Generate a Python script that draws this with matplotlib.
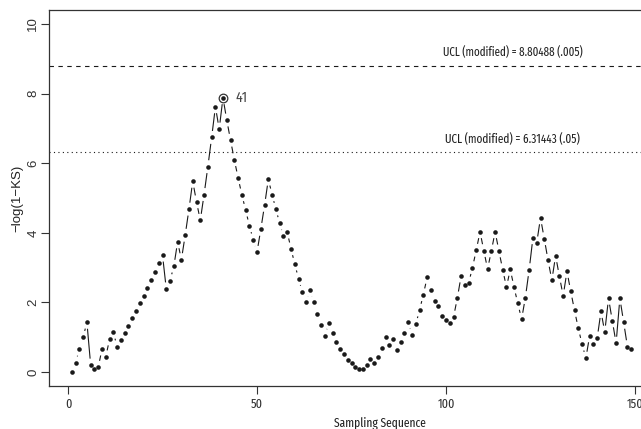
import numpy as np
import matplotlib
matplotlib.use('Agg')
import matplotlib.pyplot as plt
from matplotlib import font_manager
from matplotlib.font_manager import FontProperties
from matplotlib.collections import LineCollection

# -log(1-KS) value for each sample
ks = [0.00, 0.27, 0.65, 1.00, 1.43, 0.20, 0.09, 0.14, 0.66, 0.44,
      0.95, 1.14, 0.73, 0.92, 1.12, 1.32, 1.54, 1.75, 1.97, 2.19,
      2.41, 2.65, 2.88, 3.12, 3.36, 2.39, 2.63, 3.04, 3.74, 3.23,
      3.93, 4.68, 5.48, 4.89, 4.36, 5.10, 5.90, 6.74, 7.62, 6.98,
      7.88, 7.24, 6.66, 6.10, 5.58, 5.09, 4.65, 4.20, 3.80, 3.44,
      4.10, 4.79, 5.54, 5.09, 4.68, 4.27, 3.90, 4.02, 3.54, 3.10,
      2.68, 2.30, 2.00, 2.36, 2.00, 1.66, 1.34, 1.05, 1.42, 1.12,
      0.85, 0.67, 0.51, 0.36, 0.25, 0.16, 0.10, 0.08, 0.19, 0.38,
      0.26, 0.44, 0.69, 1.00, 0.77, 0.94, 0.63, 0.87, 1.13, 1.43,
      1.06, 1.37, 1.78, 2.22, 2.72, 2.37, 2.03, 1.91, 1.60, 1.50,
      1.41, 1.58, 2.13, 2.76, 2.51, 2.56, 3.00, 3.50, 4.03, 3.49,
      2.96, 3.48, 4.03, 3.48, 2.94, 2.44, 2.95, 2.44, 1.97, 1.52,
      2.14, 2.94, 3.86, 3.71, 4.43, 3.83, 3.21, 2.64, 3.34, 2.75,
      2.19, 2.89, 2.32, 1.77, 1.26, 0.80, 0.40, 1.04, 0.82, 0.98,
      1.74, 1.15, 2.12, 1.47, 0.83, 2.12, 1.43, 0.73, 0.66]
samples = list(range(1, len(ks) + 1))

ucl_values = [8.80488, 6.31443]
ucl_alpha = ['.005', '.05']
ucl_styles = [(0, (4, 4)), (0, (1, 3))]
flagged = 41

x_ticks = [0, 50, 100, 150]
y_ticks = [0, 2, 4, 6, 8, 10]


def narrow_font():
    # the reference text looks horizontally squeezed; use a condensed face if any
    rank = ['ExtraCondensed', 'Narrow', 'SemiCondensed', 'Condensed']
    best, best_r = None, 99
    for f in font_manager.fontManager.ttflist:
        if f.style != 'normal' or f.weight not in (400, 'normal', 'regular'):
            continue
        fn = f.fname.split('/')[-1]
        if 'Mono' in fn or 'Serif' in fn:
            continue
        for r, key in enumerate(rank):
            if key in fn and r < best_r:
                best, best_r = f.fname, r
                break
    if best is None:
        return FontProperties(family='Liberation Sans')
    return FontProperties(fname=best)


fp_h = narrow_font()
plt.rcParams['font.family'] = ['Liberation Sans', 'DejaVu Sans']

ink = '#1a1a1a'
W, H = 641, 429
fig = plt.figure(figsize=(W / 100, H / 100), dpi=100)
# axes run past the right edge, like the cropped original
ax = fig.add_axes([49 / W, (H - 386) / H, (711 - 49) / W, (386 - 10) / H])
ax.set_xlim((49 - 68) / 3.78, (711 - 68) / 3.78)
ax.set_ylim(-0.4, 10.4)

# R type="b": segments between points, with a gap around each point
pts = ax.transData.transform(np.column_stack([samples, ks]))
inv = ax.transData.inverted()
gap = 6.5
segs = []
for p, q in zip(pts[:-1], pts[1:]):
    d = q - p
    L = np.hypot(d[0], d[1])
    if L > 2 * gap:
        u = d / L
        segs.append(inv.transform(np.array([p + gap * u, q - gap * u])))
ax.add_collection(LineCollection(segs, colors=ink, linewidths=0.8))
ax.plot(samples, ks, 'o', ms=3.3, mew=0, color=ink)

# flagged sample
ax.plot(flagged, ks[flagged - 1], 'o', ms=6.2, mfc='none', mec='#333333', mew=0.9)
lab41 = ax.annotate(str(flagged), (flagged, ks[flagged - 1]), xytext=(9, 0),
                    textcoords='offset points', ha='left', va='center',
                    fontproperties=fp_h.copy(), color='#444444')

ucl_txt = []
for val, a, ls in zip(ucl_values, ucl_alpha, ucl_styles):
    ax.axhline(val, color=ink, lw=0.8, linestyle=ls)
    t = ax.text(117.7, val + 0.38, f'UCL (modified) = {val:.5f} ({a})',
                ha='center', va='center', fontproperties=fp_h.copy(),
                color='#222222')
    ucl_txt.append(t)

ax.set_xticks(x_ticks)
ax.set_yticks(y_ticks)
ax.tick_params(axis='both', length=5.5, width=0.8, color='#333333',
               labelcolor='#333333')
ax.tick_params(axis='x', pad=3.5)
ax.tick_params(axis='y', pad=1.5, labelsize=9.5, labelrotation=90)
for lbl in ax.get_yticklabels():
    lbl.set_va('center')

for s in ax.spines.values():
    s.set_color('#333333')
    s.set_linewidth(0.9)

xl = ax.set_xlabel('Sampling Sequence', fontproperties=fp_h.copy(),
                   color='#222222', labelpad=4)
ax.set_ylabel('\u2212log(1\u2212KS)', fontsize=9.5, color='#222222', labelpad=3)

# size horizontal texts from their widths in the reference (pixels),
# a bit larger since the reference glyphs are squeezed
renderer = fig.canvas.get_renderer()


def fit_width(t, target, base=10.0):
    t.set_fontsize(base)
    w = t.get_window_extent(renderer).width
    t.set_fontsize(base * target / w)


fit_width(ucl_txt[0], 140)
fit_width(ucl_txt[1], 134)
fit_width(xl, 92)
fit_width(lab41, 12)
tick_size = xl.get_fontsize() * 1.05
for lbl in ax.get_xticklabels():
    lbl.set_fontproperties(fp_h.copy())
    lbl.set_fontsize(tick_size)
    lbl.set_color('#333333')

fig.savefig('out.png', dpi=100)
